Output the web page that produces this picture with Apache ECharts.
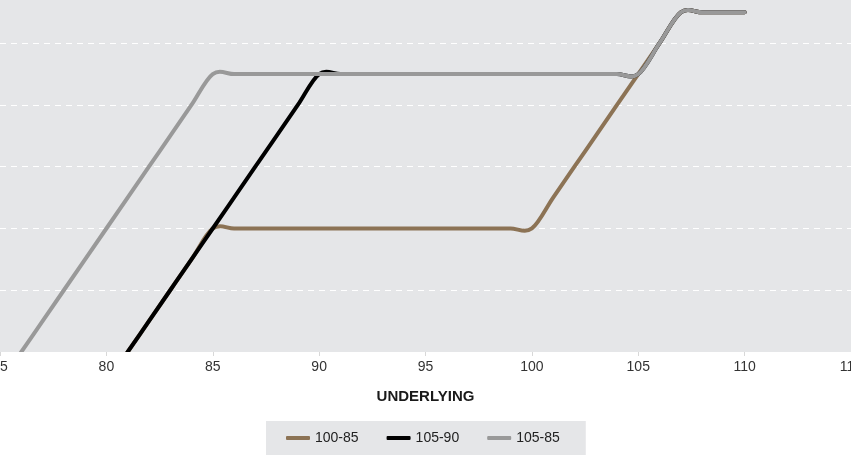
<!DOCTYPE html>
<html>
<head>
<meta charset="utf-8">
<script src="https://cdn.jsdelivr.net/npm/echarts@6/dist/echarts.min.js"></script>
<style>
html,body{margin:0;padding:0;background:#fff;}
#chart{width:851px;height:457px;}
</style>
</head>
<body>
<div id="chart"></div>
<script>
const underlying = [75,76,77,78,79,80,81,82,83,84,85,86,87,88,89,90,91,92,93,94,95,96,97,98,99,100,101,102,103,104,105,106,107,108,109,110];
const s100_85 = [-6,-5,-4,-3,-2,-1,0,1,2,3,4,4,4,4,4,4,4,4,4,4,4,4,4,4,4,4,5,6,7,8,9,10,11,11,11,11];
const s105_90 = [-6,-5,-4,-3,-2,-1,0,1,2,3,4,5,6,7,8,9,9,9,9,9,9,9,9,9,9,9,9,9,9,9,9,10,11,11,11,11];
const s105_85 = [-1,0,1,2,3,4,5,6,7,8,9,9,9,9,9,9,9,9,9,9,9,9,9,9,9,9,9,9,9,9,9,10,11,11,11,11];
const seriesNames = ['100-85','105-90','105-85'];
const seriesColors = ['#8c7355','#000000','#999999'];
const xTicks = {min:75, max:115, interval:5};

const pairs = arr => underlying.map((x,i)=>[x, arr[i]]);
const allData = [s100_85, s105_90, s105_85];

// Catmull-Rom spline through the data points, converted by the axis scales
function makeRender(arr, color){
  return function(params, api){
    if (params.dataIndex !== 0) return null;
    const pts = underlying.map((x,i)=>api.coord([x, arr[i]]));
    const n = pts.length;
    let d = 'M' + pts[0][0] + ',' + pts[0][1];
    for (let i = 0; i < n - 1; i++) {
      const p0 = pts[Math.max(i-1,0)], p1 = pts[i], p2 = pts[i+1], p3 = pts[Math.min(i+2,n-1)];
      const c1x = p1[0] + (p2[0]-p0[0])/6, c1y = p1[1] + (p2[1]-p0[1])/6;
      const c2x = p2[0] - (p3[0]-p1[0])/6, c2y = p2[1] - (p3[1]-p1[1])/6;
      d += ' C' + c1x + ',' + c1y + ' ' + c2x + ',' + c2y + ' ' + p2[0] + ',' + p2[1];
    }
    const cs = params.coordSys;
    return {
      type:'path', silent:true,
      shape:{pathData:d},
      style:{fill:null, stroke:color, lineWidth:4, lineCap:'round', lineJoin:'round'},
      clipPath:{type:'rect', shape:{x:cs.x, y:cs.y, width:cs.width, height:cs.height}}
    };
  };
}

const chart = echarts.init(document.getElementById('chart'), null, {renderer:'canvas'});
chart.setOption({
  animation:false,
  textStyle:{fontFamily:'Liberation Sans, Arial, sans-serif'},
  grid:{left:0,right:0,top:0,bottom:105,show:true,backgroundColor:'#e5e6e8',borderWidth:0,containLabel:false,outerBoundsMode:'none'},
  xAxis:{
    type:'value', min:xTicks.min, max:xTicks.max, interval:xTicks.interval,
    axisLine:{show:false},
    axisTick:{show:true,length:4,lineStyle:{color:'#d8d8d8'}},
    axisLabel:{color:'#333',fontSize:14,margin:8},
    splitLine:{show:false},
    name:'UNDERLYING', nameLocation:'middle', nameGap:37,
    nameTextStyle:{fontWeight:'bold',fontSize:15,color:'#1a1a1a'}
  },
  yAxis:{
    type:'value', min:0, max:11.4, interval:2,
    axisLine:{show:false}, axisTick:{show:false}, axisLabel:{show:false},
    splitLine:{show:true,showMinLine:false,showMaxLine:false,lineStyle:{color:'#ffffff',type:[6,5],width:1}}
  },
  legend:{
    left:266, top:421, padding:[10,26,10,20], itemGap:28,
    backgroundColor:'#e5e6e8',
    itemWidth:24, itemHeight:4, icon:'roundRect',
    textStyle:{fontSize:14,color:'#222'},
    data:seriesNames
  },
  series: seriesNames.map((n,i)=>({
    name:n, type:'custom', coordinateSystem:'cartesian2d',
    data:pairs(allData[i]), encode:{x:0,y:1},
    renderItem: makeRender(allData[i], seriesColors[i]),
    itemStyle:{color:seriesColors[i]},
    z: 2+i
  }))
});
</script>
</body>
</html>
